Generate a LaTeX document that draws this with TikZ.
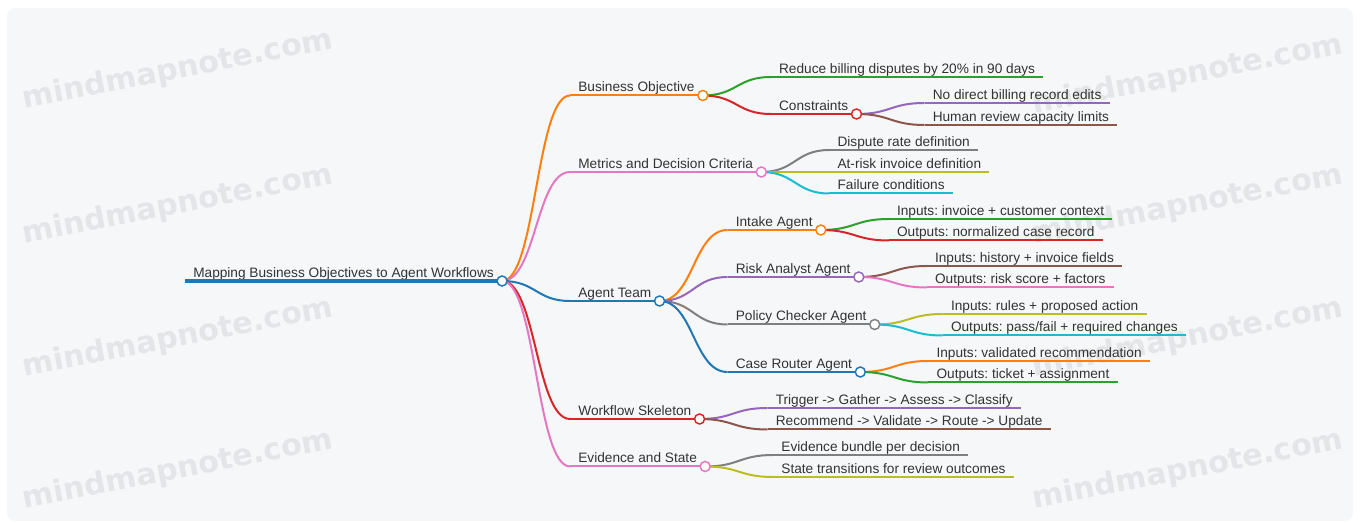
\documentclass[tikz,border=0pt]{standalone}
\usepackage{fontspec}
\setmainfont{Liberation Sans}
\newfontfamily\stampfont{DejaVu Sans}
\usetikzlibrary{calc}
\frenchspacing

\definecolor{mmblue}{HTML}{1F77B4}
\definecolor{mmorange}{HTML}{FF7F0E}
\definecolor{mmgreen}{HTML}{2CA02C}
\definecolor{mmred}{HTML}{D62728}
\definecolor{mmpurple}{HTML}{9467BD}
\definecolor{mmbrown}{HTML}{8C564B}
\definecolor{mmpink}{HTML}{E377C2}
\definecolor{mmgray}{HTML}{7F7F7F}
\definecolor{mmolive}{HTML}{BCBD22}
\definecolor{mmcyan}{HTML}{17BECF}
\definecolor{inkgray}{HTML}{333333}
\definecolor{cardgray}{HTML}{F6F7F9}
\definecolor{stampgray}{HTML}{E4E5E8}

\begin{document}
\begin{tikzpicture}[x=0.75pt, y=-0.75pt,
    topic/.style={anchor=south west, inner xsep=6pt, inner ysep=2.7pt, text depth=0pt,
                  text=inkgray, font=\fontsize{10.25}{12}\selectfont},
    rule/.style={line width=1.5pt},
    link/.style={line width=1.5pt},
    knob/.style={circle, draw, fill=white, line width=1.1pt, minimum size=7.5pt, inner sep=0pt},
    stamp/.style={text=stampgray, rotate=11, font=\stampfont\bfseries\fontsize{22.5}{26}\selectfont}]

    % Card
    \useasboundingbox (0,0) rectangle (1361,523);
    \fill[white] (0,0) rectangle (1361,523);
    \fill[cardgray, rounded corners=6pt] (7,8) rectangle (1353,521);

    % Watermarks
    \node[stamp] (stamp-a) at (178,70) {mindmapnote.com};
    \node[stamp] (stamp-b) at (178,205) {mindmapnote.com};
    \node[stamp] (stamp-c) at (178,338) {mindmapnote.com};
    \node[stamp] (stamp-d) at (178,470) {mindmapnote.com};
    \node[stamp] (stamp-e) at (1188,75) {mindmapnote.com};
    \node[stamp] (stamp-f) at (1188,205) {mindmapnote.com};
    \node[stamp] (stamp-g) at (1188,338) {mindmapnote.com};
    \node[stamp] (stamp-h) at (1188,470) {mindmapnote.com};

    % Root
    \node[topic] (root) at (185,281) {Mapping Business Objectives to Agent Workflows};
    \draw[mmblue, line width=3pt] (root.south west) -- (root.south east);

    % Business Objective
    \node[topic] (objective) at ([xshift=51pt]root.south east |- 0,95.5) {Business Objective};
    \draw[mmorange, rule] (objective.south west) -- (objective.south east);
    \draw[mmorange, link] (root.south east) .. controls +(34,0) and +(-34,0) .. (objective.south west);

    \node[topic] (goal) at ([xshift=51pt]objective.south east |- 0,77) {Reduce billing disputes by 20\% in 90 days};
    \draw[mmgreen, rule] (goal.south west) -- (goal.south east);
    \draw[mmgreen, link] (objective.south east) .. controls +(34,0) and +(-34,0) .. (goal.south west);

    \node[topic] (limits) at ([xshift=51pt]objective.south east |- 0,114) {Constraints};
    \draw[mmred, rule] (limits.south west) -- (limits.south east);
    \draw[mmred, link] (objective.south east) .. controls +(34,0) and +(-34,0) .. (limits.south west);

    \node[topic] (noedit) at ([xshift=51pt]limits.south east |- 0,103) {No direct billing record edits};
    \draw[mmpurple, rule] (noedit.south west) -- (noedit.south east);
    \draw[mmpurple, link] (limits.south east) .. controls +(34,0) and +(-34,0) .. (noedit.south west);

    \node[topic] (capacity) at ([xshift=51pt]limits.south east |- 0,125) {Human review capacity limits};
    \draw[mmbrown, rule] (capacity.south west) -- (capacity.south east);
    \draw[mmbrown, link] (limits.south east) .. controls +(34,0) and +(-34,0) .. (capacity.south west);

    % Metrics
    \node[topic] (metrics) at ([xshift=51pt]root.south east |- 0,172) {Metrics and Decision Criteria};
    \draw[mmpink, rule] (metrics.south west) -- (metrics.south east);
    \draw[mmpink, link] (root.south east) .. controls +(34,0) and +(-34,0) .. (metrics.south west);

    \node[topic] (rate) at ([xshift=51pt]metrics.south east |- 0,150) {Dispute rate definition};
    \draw[mmgray, rule] (rate.south west) -- (rate.south east);
    \draw[mmgray, link] (metrics.south east) .. controls +(34,0) and +(-34,0) .. (rate.south west);

    \node[topic] (atrisk) at ([xshift=51pt]metrics.south east |- 0,172) {At-risk invoice definition};
    \draw[mmolive, rule] (atrisk.south west) -- (atrisk.south east);
    \draw[mmolive, link] (metrics.south east) .. controls +(34,0) and +(-34,0) .. (atrisk.south west);

    \node[topic] (failure) at ([xshift=51pt]metrics.south east |- 0,193.5) {Failure conditions};
    \draw[mmcyan, rule] (failure.south west) -- (failure.south east);
    \draw[mmcyan, link] (metrics.south east) .. controls +(34,0) and +(-34,0) .. (failure.south west);

    % Agent Team
    \node[topic] (team) at ([xshift=51pt]root.south east |- 0,301) {Agent Team};
    \draw[mmblue, rule] (team.south west) -- (team.south east);
    \draw[mmblue, link] (root.south east) .. controls +(34,0) and +(-34,0) .. (team.south west);

    \node[topic] (intake) at ([xshift=51pt]team.south east |- 0,230) {Intake Agent};
    \draw[mmorange, rule] (intake.south west) -- (intake.south east);
    \draw[mmorange, link] (team.south east) .. controls +(34,0) and +(-34,0) .. (intake.south west);

    \node[topic] (intake-in) at ([xshift=51pt]intake.south east |- 0,219) {Inputs: invoice + customer context};
    \draw[mmgreen, rule] (intake-in.south west) -- (intake-in.south east);
    \draw[mmgreen, link] (intake.south east) .. controls +(34,0) and +(-34,0) .. (intake-in.south west);

    \node[topic] (intake-out) at ([xshift=51pt]intake.south east |- 0,240.5) {Outputs: normalized case record};
    \draw[mmred, rule] (intake-out.south west) -- (intake-out.south east);
    \draw[mmred, link] (intake.south east) .. controls +(34,0) and +(-34,0) .. (intake-out.south west);

    \node[topic] (risk) at ([xshift=51pt]team.south east |- 0,277) {Risk Analyst Agent};
    \draw[mmpurple, rule] (risk.south west) -- (risk.south east);
    \draw[mmpurple, link] (team.south east) .. controls +(34,0) and +(-34,0) .. (risk.south west);

    \node[topic] (risk-in) at ([xshift=51pt]risk.south east |- 0,266) {Inputs: history + invoice fields};
    \draw[mmbrown, rule] (risk-in.south west) -- (risk-in.south east);
    \draw[mmbrown, link] (risk.south east) .. controls +(34,0) and +(-34,0) .. (risk-in.south west);

    \node[topic] (risk-out) at ([xshift=51pt]risk.south east |- 0,287.5) {Outputs: risk score + factors};
    \draw[mmpink, rule] (risk-out.south west) -- (risk-out.south east);
    \draw[mmpink, link] (risk.south east) .. controls +(34,0) and +(-34,0) .. (risk-out.south west);

    \node[topic] (policy) at ([xshift=51pt]team.south east |- 0,324.5) {Policy Checker Agent};
    \draw[mmgray, rule] (policy.south west) -- (policy.south east);
    \draw[mmgray, link] (team.south east) .. controls +(34,0) and +(-34,0) .. (policy.south west);

    \node[topic] (policy-in) at ([xshift=51pt]policy.south east |- 0,314) {Inputs: rules + proposed action};
    \draw[mmolive, rule] (policy-in.south west) -- (policy-in.south east);
    \draw[mmolive, link] (policy.south east) .. controls +(34,0) and +(-34,0) .. (policy-in.south west);

    \node[topic] (policy-out) at ([xshift=51pt]policy.south east |- 0,335.5) {Outputs: pass/fail + required changes};
    \draw[mmcyan, rule] (policy-out.south west) -- (policy-out.south east);
    \draw[mmcyan, link] (policy.south east) .. controls +(34,0) and +(-34,0) .. (policy-out.south west);

    \node[topic] (router) at ([xshift=51pt]team.south east |- 0,372) {Case Router Agent};
    \draw[mmblue, rule] (router.south west) -- (router.south east);
    \draw[mmblue, link] (team.south east) .. controls +(34,0) and +(-34,0) .. (router.south west);

    \node[topic] (router-in) at ([xshift=51pt]router.south east |- 0,361) {Inputs: validated recommendation};
    \draw[mmorange, rule] (router-in.south west) -- (router-in.south east);
    \draw[mmorange, link] (router.south east) .. controls +(34,0) and +(-34,0) .. (router-in.south west);

    \node[topic] (router-out) at ([xshift=51pt]router.south east |- 0,382.5) {Outputs: ticket + assignment};
    \draw[mmgreen, rule] (router-out.south west) -- (router-out.south east);
    \draw[mmgreen, link] (router.south east) .. controls +(34,0) and +(-34,0) .. (router-out.south west);

    % Workflow Skeleton
    \node[topic] (skeleton) at ([xshift=51pt]root.south east |- 0,419) {Workflow Skeleton};
    \draw[mmred, rule] (skeleton.south west) -- (skeleton.south east);
    \draw[mmred, link] (root.south east) .. controls +(34,0) and +(-34,0) .. (skeleton.south west);

    \node[topic] (steps-a) at ([xshift=51pt]skeleton.south east |- 0,408) {Trigger -> Gather -> Assess -> Classify};
    \draw[mmpurple, rule] (steps-a.south west) -- (steps-a.south east);
    \draw[mmpurple, link] (skeleton.south east) .. controls +(34,0) and +(-34,0) .. (steps-a.south west);

    \node[topic] (steps-b) at ([xshift=51pt]skeleton.south east |- 0,429.5) {Recommend -> Validate -> Route -> Update};
    \draw[mmbrown, rule] (steps-b.south west) -- (steps-b.south east);
    \draw[mmbrown, link] (skeleton.south east) .. controls +(34,0) and +(-34,0) .. (steps-b.south west);

    % Evidence and State
    \node[topic] (evidence) at ([xshift=51pt]root.south east |- 0,466.5) {Evidence and State};
    \draw[mmpink, rule] (evidence.south west) -- (evidence.south east);
    \draw[mmpink, link] (root.south east) .. controls +(34,0) and +(-34,0) .. (evidence.south west);

    \node[topic] (bundle) at ([xshift=51pt]evidence.south east |- 0,455) {Evidence bundle per decision};
    \draw[mmgray, rule] (bundle.south west) -- (bundle.south east);
    \draw[mmgray, link] (evidence.south east) .. controls +(34,0) and +(-34,0) .. (bundle.south west);

    \node[topic] (states) at ([xshift=51pt]evidence.south east |- 0,477) {State transitions for review outcomes};
    \draw[mmolive, rule] (states.south west) -- (states.south east);
    \draw[mmolive, link] (evidence.south east) .. controls +(34,0) and +(-34,0) .. (states.south west);

    % Knobs on top of the branch ends
    \node[knob, draw=mmblue] (root-knob) at (root.south east) {};
    \node[knob, draw=mmorange] (objective-knob) at (objective.south east) {};
    \node[knob, draw=mmred] (limits-knob) at (limits.south east) {};
    \node[knob, draw=mmpink] (metrics-knob) at (metrics.south east) {};
    \node[knob, draw=mmblue] (team-knob) at (team.south east) {};
    \node[knob, draw=mmorange] (intake-knob) at (intake.south east) {};
    \node[knob, draw=mmpurple] (risk-knob) at (risk.south east) {};
    \node[knob, draw=mmgray] (policy-knob) at (policy.south east) {};
    \node[knob, draw=mmblue] (router-knob) at (router.south east) {};
    \node[knob, draw=mmred] (skeleton-knob) at (skeleton.south east) {};
    \node[knob, draw=mmpink] (evidence-knob) at (evidence.south east) {};
\end{tikzpicture}
\end{document}
